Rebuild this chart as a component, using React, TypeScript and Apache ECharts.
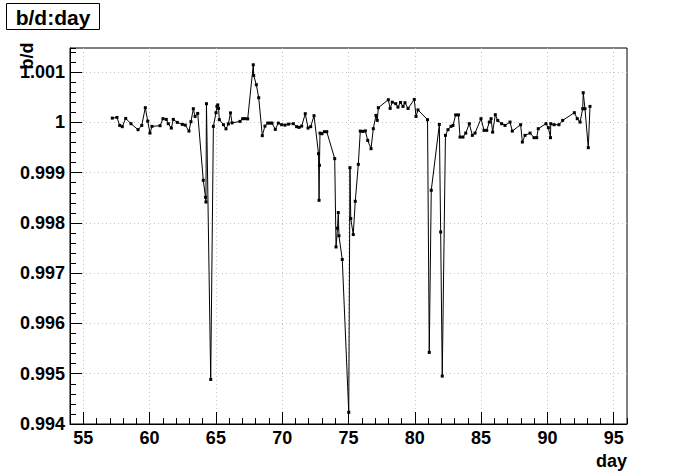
import React, { useEffect, useRef } from "react";
import * as echarts from "echarts";

const days = [
  57.19, 57.54, 57.75, 57.94, 58.2, 58.6, 59.13, 59.41, 59.68, 59.86,
  60.03, 60.18, 60.79, 61.01, 61.26, 61.41, 61.64, 61.79, 62.09, 62.47,
  62.69, 62.97, 63.12, 63.3, 63.43, 63.63, 64.05, 64.22, 64.25, 64.29,
  64.61, 64.81, 65.01, 65.08, 65.14, 65.2, 65.26, 65.57, 65.76, 65.94,
  66.1, 66.22, 66.82, 67.02, 67.2, 67.4, 67.82, 67.85, 68.05, 68.23,
  68.5, 68.7, 68.91, 69.08, 69.23, 69.48, 69.71, 69.96, 70.21, 70.48,
  70.84, 71.09, 71.27, 71.47, 71.74, 71.95, 72.15, 72.4, 72.74, 72.78,
  72.81, 72.85, 73.0, 73.18, 73.36, 73.96, 74.06, 74.17, 74.23, 74.28,
  74.53, 75.02, 75.11, 75.17, 75.36, 75.51, 75.74, 75.89, 76.08, 76.27,
  76.45, 76.7, 76.87, 77.07, 77.17, 77.25, 78.0, 78.14, 78.3, 78.56,
  78.73, 78.92, 79.11, 79.26, 79.49, 79.96, 80.09, 80.24, 80.96, 81.09,
  81.24, 81.85, 81.95, 82.07, 82.31, 82.5, 82.73, 82.88, 83.08, 83.29,
  83.41, 83.63, 83.84, 84.11, 84.34, 84.54, 84.99, 85.22, 85.42, 85.62,
  85.75, 85.87, 86.07, 86.25, 86.55, 86.8, 87.18, 87.35, 87.98, 88.11,
  88.31, 88.69, 88.99, 89.19, 89.31, 89.89, 90.07, 90.23, 90.25, 90.5,
  90.87, 91.15, 92.03, 92.25, 92.46, 92.66, 92.7, 92.83, 93.08, 93.21,
];

const ratio = [
  1.000085, 1.000099, 0.99994, 0.999915, 1.000079, 0.999974, 0.999855, 0.99994, 1.000292, 1.000026,
  0.999787, 0.999921, 0.999934, 1.000074, 1.00006, 0.999974, 0.999887, 1.00006, 1.0, 0.99996,
  0.999946, 0.999827, 1.000014, 1.000272, 1.000119, 1.000179, 0.998848, 0.99851, 0.998416, 1.000372,
  0.994887, 0.999921, 1.000193, 1.000318, 1.000348, 1.000278, 1.000054, 0.999954, 0.999871, 0.99997,
  1.000189, 0.99999, 1.00002, 1.000074, 1.000074, 1.00007, 1.001146, 1.000934, 1.000749, 1.000491,
  0.999736, 0.999926, 0.999986, 0.999986, 0.999986, 0.999861, 0.999986, 0.999954, 0.999946, 0.999966,
  0.999974, 0.999915, 0.999901, 0.999926, 1.000173, 0.999887, 0.999915, 1.000133, 0.999378, 0.99845,
  0.999146, 0.999787, 0.999775, 0.999815, 0.999815, 0.999279, 0.997522, 0.997894, 0.998206, 0.997745,
  0.997272, 0.994232, 0.9991, 0.998087, 0.997769, 0.99843, 0.999165, 0.999827, 0.999821, 0.999831,
  0.999642, 0.999477, 0.999875, 1.000139, 1.00004, 1.000292, 1.000451, 1.000278, 1.000403, 1.000372,
  1.000304, 1.000397, 1.000318, 1.000391, 1.000278, 1.000457, 1.000119, 1.000248, 1.000054, 0.995424,
  0.998649, 0.99996, 0.99782, 0.994953, 0.999742, 0.999855, 0.999921, 0.99994, 1.000149, 1.000149,
  0.999708, 0.999708, 0.999787, 0.999974, 0.999742, 0.999787, 1.000074, 0.999841, 0.999841, 1.000006,
  1.000074, 0.999807, 1.000153, 1.00004, 0.999974, 0.99994, 1.000006, 0.999827, 0.999954, 0.999609,
  0.999742, 0.999787, 0.999696, 0.999696, 0.999875, 0.999974, 0.999895, 0.999696, 0.999974, 0.999954,
  0.999954, 1.00004, 1.000193, 1.000074, 1.000006, 1.000272, 1.00059, 1.000272, 0.999497, 1.000318,
];

const xMin = 54;
const xMax = 96;
const yMin = 0.994;
const yMax = 1.00148;
const titleText = "b/d:day";
const xTitle = "day";
const yTitle = "b/d";

const FONT = "'Liberation Sans', Arial, Helvetica, sans-serif";

export default function App() {
  const ref = useRef<HTMLDivElement>(null);

  useEffect(() => {
    if (!ref.current) return;
    const chart = echarts.init(ref.current, null, { renderer: "svg" });
    const data = days.map((d, i) => [d, ratio[i]]);
    const gridLine = { color: "#c4c4c4", type: [1, 3] as any, width: 1 };
    chart.setOption({
      animation: false,
      backgroundColor: "#ffffff",
      grid: {
        left: 70,
        right: 69,
        top: 48,
        bottom: 48,
        show: true,
        borderColor: "#000",
        borderWidth: 1,
        backgroundColor: "transparent",
        containLabel: false,
      },
      xAxis: [
        {
          type: "value",
          min: xMin,
          max: xMax,
          splitNumber: 8,
          position: "bottom",
          axisLine: { show: true, lineStyle: { color: "#000", width: 1 } },
          axisTick: { show: true, inside: true, length: 12, lineStyle: { color: "#000", width: 1 } },
          axisLabel: {
            show: true,
            showMinLabel: false,
            showMaxLabel: false,
            color: "#000",
            fontFamily: FONT,
            fontWeight: "bold",
            fontSize: 18,
            margin: 5,
          },
          splitLine: { show: true, showMinLine: false, showMaxLine: false, lineStyle: gridLine },
        },
        {
          type: "value",
          min: xMin,
          max: xMax,
          interval: 1,
          position: "bottom",
          axisLine: { show: false },
          axisTick: { show: true, inside: true, length: 6, lineStyle: { color: "#000", width: 1 } },
          axisLabel: { show: false },
          splitLine: { show: false },
        },
      ],
      yAxis: [
        {
          type: "value",
          min: yMin,
          max: yMax,
          splitNumber: 8,
          position: "left",
          axisLine: { show: true, lineStyle: { color: "#000", width: 1 } },
          axisTick: { show: true, inside: true, length: 12, lineStyle: { color: "#000", width: 1 } },
          axisLabel: {
            show: true,
            showMaxLabel: false,
            color: "#000",
            fontFamily: FONT,
            fontWeight: "bold",
            fontSize: 18,
            margin: 5,
            formatter: (v: number) => String(Number(v.toFixed(4))),
          },
          splitLine: { show: true, showMinLine: false, showMaxLine: false, lineStyle: gridLine },
        },
        {
          type: "value",
          min: yMin,
          max: yMax,
          interval: 0.0002,
          position: "left",
          axisLine: { show: false },
          axisTick: { show: true, inside: true, length: 6, lineStyle: { color: "#000", width: 1 } },
          axisLabel: { show: false },
          splitLine: { show: false },
        },
      ],
      series: [
        {
          type: "line",
          xAxisIndex: 0,
          yAxisIndex: 0,
          data,
          symbol: "rect",
          symbolSize: 3,
          showSymbol: true,
          showAllSymbol: true,
          itemStyle: { color: "#000" },
          lineStyle: { color: "#000", width: 1 },
          emphasis: { disabled: true },
          clip: true,
          z: 5,
        },
      ],
      graphic: [
        {
          type: "rect",
          shape: { x: 6.5, y: 3.5, width: 93, height: 26 },
          style: { fill: "#fff", stroke: "#000", lineWidth: 1 },
          z: 10,
        },
        {
          type: "text",
          x: 53,
          y: 17,
          style: {
            text: titleText,
            fill: "#000",
            font: `bold 21px ${FONT}`,
            textAlign: "center",
            textVerticalAlign: "middle",
          },
          z: 11,
        },
        {
          type: "text",
          x: 627,
          y: 461,
          style: {
            text: xTitle,
            fill: "#000",
            font: `bold 18px ${FONT}`,
            textAlign: "right",
            textVerticalAlign: "middle",
          },
          z: 11,
        },
        {
          type: "text",
          x: 27,
          y: 56,
          rotation: Math.PI / 2,
          style: {
            text: yTitle,
            fill: "#000",
            font: `bold 18px ${FONT}`,
            textAlign: "center",
            textVerticalAlign: "middle",
          },
          z: 11,
        },
      ],
    });
    return () => chart.dispose();
  }, []);

  return (
    <div
      ref={ref}
      style={{ position: "fixed", left: 0, top: 0, width: 696, height: 472, background: "#fff" }}
    />
  );
}
